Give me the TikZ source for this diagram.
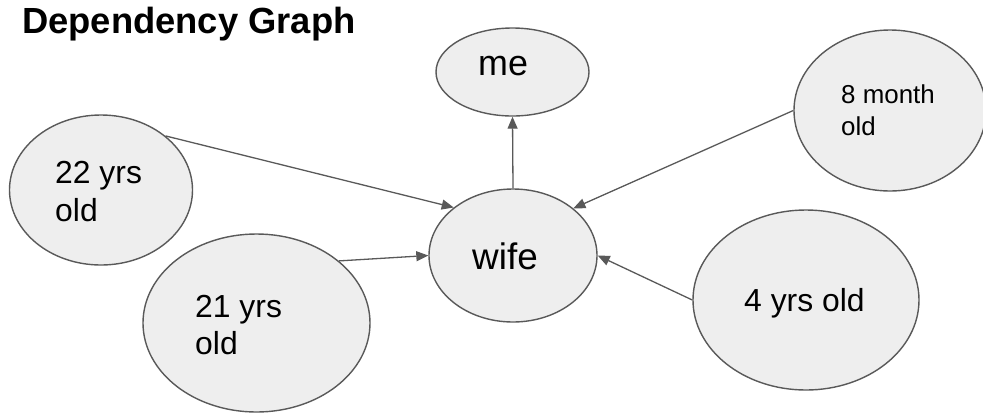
\documentclass[tikz,border=0pt]{standalone}
\usepackage{fontspec}
\setmainfont{Liberation Sans}
\usetikzlibrary{shapes.geometric,arrows.meta}
\definecolor{edgegray}{HTML}{595959}
\definecolor{fillgray}{HTML}{EEEEEE}
\tikzset{
  bubble/.style={ellipse, draw=edgegray, fill=fillgray, line width=1.4bp, inner sep=0pt},
  lbl/.style={anchor=base west, inner sep=0pt, text=black},
  link/.style={draw=edgegray, line width=1.3bp, -{Triangle[length=12bp,width=10bp]}}
}
\begin{document}
\begin{tikzpicture}[x=1bp,y=-1bp]
\useasboundingbox (0,0) rectangle (983,413);
% ellipses
\node[bubble, minimum width=183bp, minimum height=150bp] (e22) at (101,190) {};
\node[bubble, minimum width=227bp, minimum height=178bp] (e21) at (256.5,323) {};
\node[bubble, minimum width=153bp, minimum height=88bp] (eme) at (512.5,72) {};
\node[bubble, minimum width=168bp, minimum height=133bp] (ewife) at (513,255.5) {};
\node[bubble, minimum width=192bp, minimum height=161bp] (e8) at (890,110.5) {};
\node[bubble, minimum width=226bp, minimum height=180bp] (e4) at (806,300) {};
% texts
\node[lbl, font=\bfseries\fontsize{36.5}{44}\selectfont] (title) at (22,33) {Dependency Graph};
\node[lbl, font=\fontsize{32}{38}\selectfont] (t22a) at (55,183) {22 yrs};
\node[lbl, font=\fontsize{32}{38}\selectfont] (t22b) at (55,221) {old};
\node[lbl, font=\fontsize{32}{38}\selectfont] (t21a) at (195,317) {21 yrs};
\node[lbl, font=\fontsize{32}{38}\selectfont] (t21b) at (195,354) {old};
\node[lbl, font=\fontsize{26}{31}\selectfont] (t8a) at (841,103) {8 month};
\node[lbl, font=\fontsize{26}{31}\selectfont] (t8b) at (841,135) {old};
\node[lbl, font=\fontsize{32}{38}\selectfont] (t4) at (744,311.5) {4 yrs old};
\node[lbl, font=\fontsize{36}{43}\selectfont] (tme) at (478,75) {me};
\node[lbl, font=\fontsize{37}{44}\selectfont] (twife) at (472,269) {wife};
% connectors
\draw[link] (e22.40.7) -- (ewife.141.6);
\draw[link] (e21.37.6) -- (ewife.180);
\draw[link] (e8.180) -- (ewife.38.9);
\draw[link] (e4.180) -- (ewife.0);
\draw[link] (ewife.90) -- (eme.270);
\end{tikzpicture}
\end{document}
